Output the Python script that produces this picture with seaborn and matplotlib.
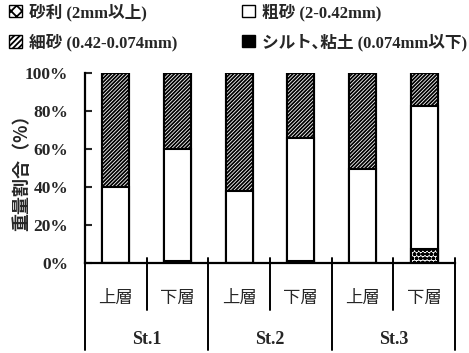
import matplotlib
matplotlib.use("Agg")
import matplotlib.pyplot as plt
import matplotlib.transforms as mtransforms
from matplotlib.patches import Patch
import seaborn as sns
import pandas as pd
import numpy as np

# Grain-size composition (weight %) of bottom sediments, upper/lower layer per station
stations = ["St.1", "St.2", "St.3"]
layers = ["上層", "下層"]
gravel = [0.0, 1.0, 0.0, 1.0, 0.0, 7.5]        # 砂利 (2mm以上)
coarse = [40.0, 59.0, 38.0, 65.0, 49.5, 75.0]   # 粗砂 (2-0.42mm)
silt = [0.0, 0.0, 0.0, 0.0, 0.0, 0.0]           # シルト、粘土 (0.074mm以下)
fine = [100 - g - c - s for g, c, s in zip(gravel, coarse, silt)]  # 細砂

yticks = [0, 20, 40, 60, 80, 100]
ytick_labels = ["0%", "20%", "40%", "60%", "80%", "100%"]

sns.set_style("white")
plt.rcParams["font.family"] = ["Liberation Serif", "Noto Sans CJK JP", "DejaVu Sans"]
plt.rcParams["hatch.linewidth"] = 1.3

jp = ["Noto Sans CJK JP", "DejaVu Sans"]
serif = ["Liberation Serif", "Noto Sans CJK JP"]

samples = [f"{s}-{l}" for s in stations for l in layers]
df = pd.DataFrame({
    "sample": samples,
    "gravel": gravel,
    "coarse": coarse,
    "fine": fine,
    "silt": silt,
})
df["gc"] = df["gravel"] + df["coarse"]
df["gcf"] = df["gc"] + df["fine"]
df["total"] = df["gcf"] + df["silt"]

fig = plt.figure(figsize=(4.69, 3.53), dpi=100)
ax = fig.add_axes([85 / 469, 1 - 263 / 353, 370 / 469, 190 / 353])

bw = 0.44
common = dict(x="sample", data=df, order=samples, width=bw, edgecolor="black",
              linewidth=1.5, ax=ax, saturation=1)
# stacked by overdrawing cumulative totals, top layer first
sns.barplot(y="total", color="black", **common)
sns.barplot(y="gcf", color="white", hatch="/////////", **common)
sns.barplot(y="gc", color="white", **common)
sns.barplot(y="gravel", color="white", hatch="oooo", **common)

ax.set_xlim(-0.5, 5.5)
ax.set_ylim(0, 100)
ax.set_xlabel("")
ax.set_xticks([])
ax.set_yticks(yticks)
ax.set_yticklabels(ytick_labels, fontfamily=serif, fontweight="bold", fontsize=12.5)
ax.tick_params(axis="y", direction="in", length=5, width=1.5, pad=12, left=True)
for side in ("top", "right"):
    ax.spines[side].set_visible(False)
for side in ("left", "bottom"):
    ax.spines[side].set_linewidth(1.6)
    ax.spines[side].set_color("black")

ax.set_ylabel("重量割合（%）", fontfamily=jp, fontsize=13, fontweight="bold")
ax.yaxis.set_label_coords(-0.145, 0.5)

# category table below the axis
trans = mtransforms.blended_transform_factory(ax.transData, ax.transAxes)
for xs in [0.5, 2.5, 4.5]:
    ax.plot([xs, xs], [0.026, -0.247], color="black", lw=1.4, transform=trans, clip_on=False)
for xs in [-0.5, 1.5, 3.5, 5.5]:
    ax.plot([xs, xs], [0.026, -0.458], color="black", lw=1.4, transform=trans, clip_on=False)

for i, s in enumerate(samples):
    lay = s.split("-")[1]
    ax.text(i, -0.184, lay, transform=trans, ha="center", va="center",
            fontsize=12.5, fontfamily=jp)
for j, st in enumerate(stations):
    ax.text(2 * j + 0.5, -0.40, st, transform=trans, ha="center", va="center",
            fontsize=13, fontfamily=serif, fontweight="bold")

# legend in two columns
left_handles = [
    Patch(facecolor="white", edgecolor="black", hatch="xxx", label="砂利 (2mm以上)"),
    Patch(facecolor="white", edgecolor="black", hatch="//////", label="細砂 (0.42-0.074mm)"),
]
right_handles = [
    Patch(facecolor="white", edgecolor="black", label="粗砂 (2-0.42mm)"),
    Patch(facecolor="black", edgecolor="black", label="シルト､粘土 (0.074mm以下)"),
]
leg_kw = dict(loc="upper left", frameon=False,
              prop={"family": serif, "size": 12, "weight": "bold"},
              handlelength=0.75, handleheight=0.75, handletextpad=0.4,
              labelspacing=0.75, borderaxespad=0.0, borderpad=0.2)
fig.legend(handles=left_handles, bbox_to_anchor=(6 / 469, 1.0), **leg_kw)
fig.legend(handles=right_handles, bbox_to_anchor=(239 / 469, 1.0), **leg_kw)

fig.savefig("out.png", dpi=100)
